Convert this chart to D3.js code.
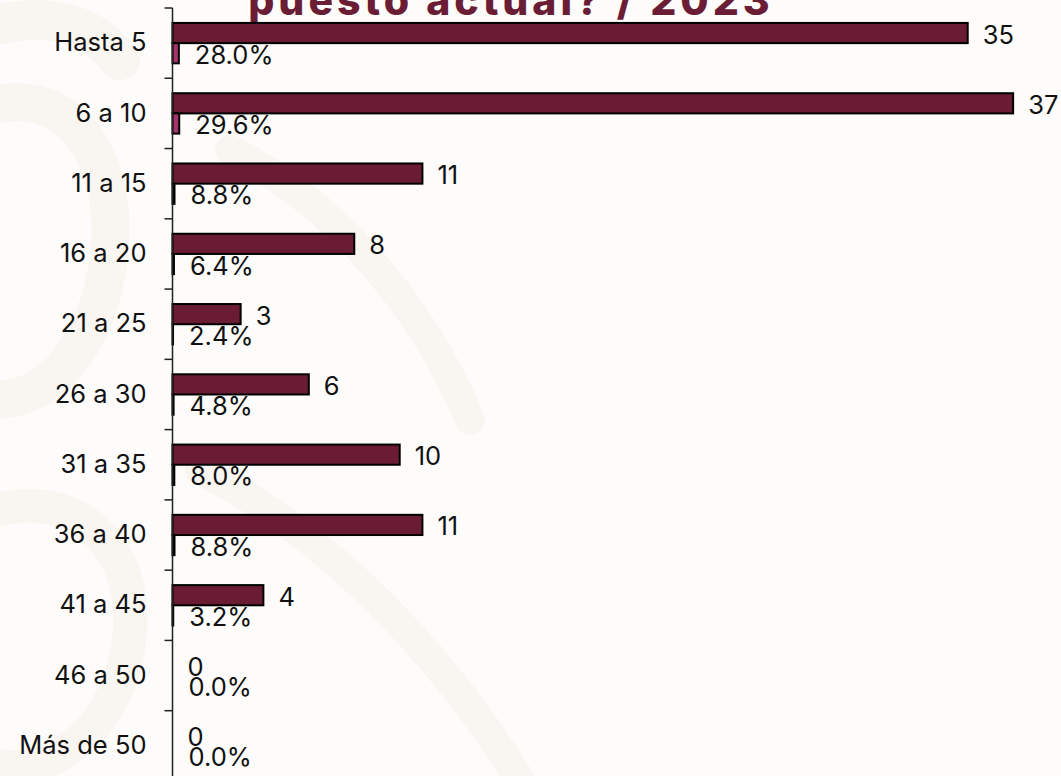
<!DOCTYPE html>
<html lang="es">
<head>
<meta charset="utf-8">
<title>Años en el puesto actual / 2023</title>
<script src="https://cdn.jsdelivr.net/npm/d3@7"></script>
<style>
  html, body { margin: 0; padding: 0; background: #fdfcfa; }
  svg { display: block; }
  text { font-family: Inter, "Open Sans", sans-serif; }
</style>
</head>
<body>
<svg id="chart" width="1061" height="776"></svg>
<script>
// Rangos de antigüedad en el puesto (años)
const categories = ["Hasta 5", "6 a 10", "11 a 15", "16 a 20", "21 a 25", "26 a 30",
                    "31 a 35", "36 a 40", "41 a 45", "46 a 50", "Más de 50"];
// Número de personas por rango
const counts = [35, 37, 11, 8, 3, 6, 10, 11, 4, 0, 0];
// Porcentaje del total (fracción)
const shares = [0.280, 0.296, 0.088, 0.064, 0.024, 0.048, 0.080, 0.088, 0.032, 0.000, 0.000];
const titleText = "puesto actual? / 2023";

const svg = d3.select("#chart");
const W = 1061, H = 776;
const FS = 25.5;

// Fondo con marca de agua muy tenue
const bg = svg.append("g");
bg.append("rect").attr("width", W).attr("height", H).attr("fill", "#fdfcfa");
const wm = bg.append("g").attr("fill", "none").attr("stroke", "#f7f2ec")
  .attr("stroke-opacity", 0.7).attr("stroke-linecap", "round");
wm.append("path").attr("stroke-width", 38).attr("d", "M-40,120 C60,60 140,160 100,300 C70,400 -10,420 -40,380");
wm.append("path").attr("stroke-width", 34).attr("d", "M-30,520 C80,470 160,560 120,680 C90,760 20,780 -20,760");
wm.append("path").attr("stroke-width", 30).attr("d", "M200,470 C300,520 420,620 520,780");
wm.append("path").attr("stroke-width", 30).attr("d", "M230,150 C330,200 420,300 470,420");
wm.append("path").attr("stroke-width", 40).attr("d", "M-20,30 C40,10 90,20 120,60");

// Escalas
const x0 = 172.5;
const x = d3.scaleLinear().domain([0, 40]).range([x0, x0 + 40 * 22.72]);
const y = d3.scaleBand().domain(categories).range([8, 8 + 11 * 70.27]).padding(0);
const sub = d3.scaleBand().domain(["count", "share"]).range([0, y.bandwidth()])
  .paddingInner(0).paddingOuter(0.74);

const rows = categories.map((c, i) => ({ cat: c, count: counts[i], share: shares[i] }));

// Título (parte visible)
svg.append("text")
  .attr("x", 511).attr("y", 15)
  .attr("text-anchor", "middle")
  .attr("font-size", 41).attr("font-weight", 800)
  .attr("letter-spacing", 4)
  .attr("fill", "#6b1d36")
  .text(titleText);

// Barras
const g = svg.append("g");
const row = g.selectAll("g.row").data(rows).join("g")
  .attr("class", "row")
  .attr("transform", d => `translate(0,${y(d.cat)})`);

row.filter(d => d.count > 0).append("rect")
  .attr("x", x(0))
  .attr("y", sub("count"))
  .attr("width", d => x(d.count) - x(0))
  .attr("height", sub.bandwidth())
  .attr("fill", "#691c32")
  .attr("stroke", "#000")
  .attr("stroke-width", 2);

row.filter(d => d.share > 0).append("rect")
  .attr("x", x(0))
  .attr("y", sub("share"))
  .attr("width", d => x(d.share) - x(0))
  .attr("height", sub.bandwidth())
  .attr("fill", "#a8336c")
  .attr("stroke", "#000")
  .attr("stroke-width", 2);

// Etiquetas de valores
row.append("text")
  .attr("x", d => x(d.count) + 15)
  .attr("y", sub("count") + sub.bandwidth() / 2 + 1)
  .attr("dominant-baseline", "central")
  .attr("font-size", FS)
  .attr("fill", "#111")
  .text(d => d.count);

row.append("text")
  .attr("x", d => x(d.share) + 16)
  .attr("y", sub("share") + sub.bandwidth() / 2 + 1)
  .attr("dominant-baseline", "central")
  .attr("font-size", FS)
  .attr("fill", "#111")
  .text(d => d3.format(".1%")(d.share));

// Eje vertical con marcas entre categorías
const axis = svg.append("g").attr("transform", `translate(${x0},0)`)
  .call(d3.axisLeft(y).tickSize(0).tickPadding(26));
axis.select(".domain").attr("stroke", "#222").attr("stroke-width", 1.5).attr("d", `M0,${y.range()[0]}V${H + 10}`);
axis.selectAll(".tick text")
  .attr("font-size", FS)
  .attr("font-family", "Inter, sans-serif")
  .attr("fill", "#111");

const bounds = categories.map(c => y(c)).concat([y.range()[1]]);
axis.selectAll("line.sep").data(bounds).join("line")
  .attr("class", "sep")
  .attr("x1", -8).attr("x2", 0)
  .attr("y1", d => d).attr("y2", d => d)
  .attr("stroke", "#222").attr("stroke-width", 1.5);
</script>
</body>
</html>
